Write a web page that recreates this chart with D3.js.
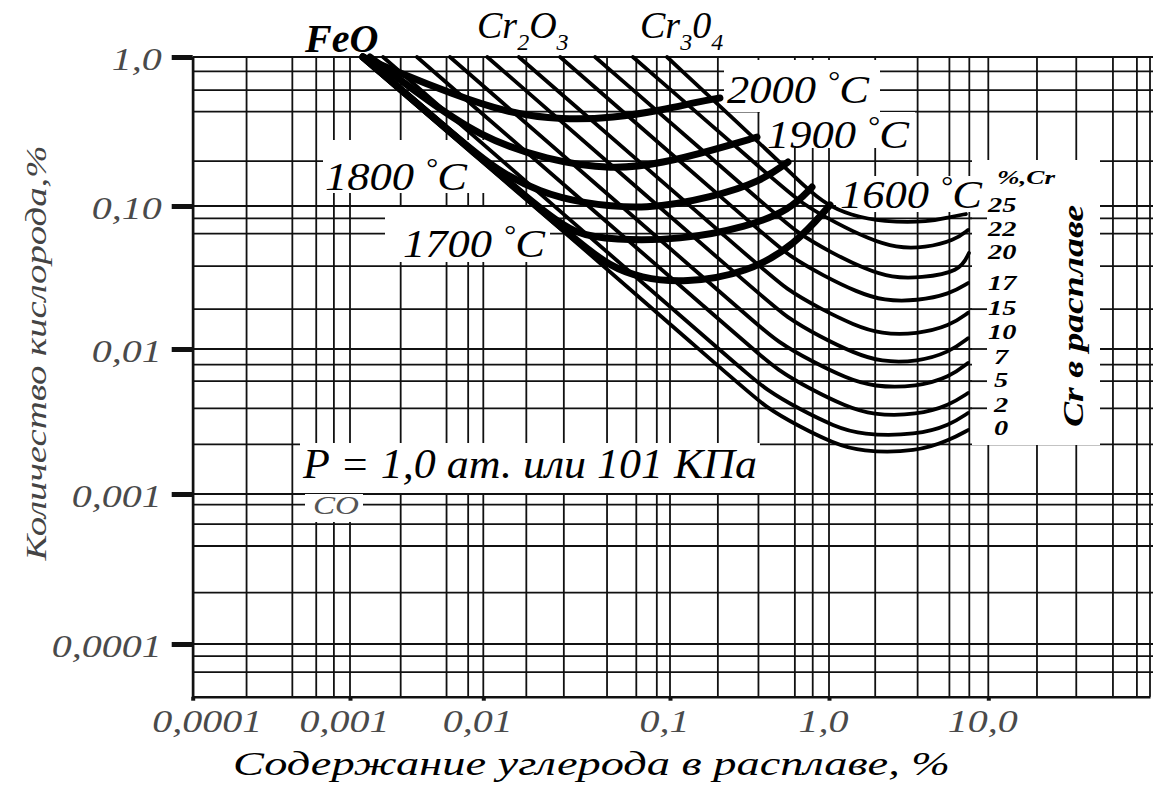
<!DOCTYPE html>
<html lang="ru">
<head>
<meta charset="utf-8">
<title>Содержание кислорода и углерода в хромистом расплаве</title>
<script src="https://cdn.jsdelivr.net/npm/d3@7/dist/d3.min.js"></script>
<style>
  html, body { margin: 0; padding: 0; background: #fff; }
  svg { display: block; }
</style>
</head>
<body>
<svg id="chart" width="1153" height="787"></svg>
<script>
// ---------- axes: decades and their labels ----------
const xDecades = [1e-4, 1e-3, 1e-2, 0.1, 1, 10, 100];
const xTickLabels = ["0,0001", "0,001", "0,01", "0,1", "1,0", "10,0"];
const yDecades = [1, 0.1, 0.01, 0.001, 1e-4];
const yBottom = 4.45e-5;
const yTickLabels = ["1,0", "0,10", "0,01", "0,001", "0,0001"];

// intermediate grid lines of the log paper
const xGridValues = [2.2e-4, 4.3e-4, 6.1e-4, 7.9e-4, 2.4e-3, 5.3e-3, 7.7e-3,
  0.017, 0.027, 0.046, 0.066, 0.085, 0.2, 0.36, 0.61, 0.79,
  1.95, 3.6, 5.7, 7.6, 20, 35, 59, 83];
const yGridValues = [0.8, 0.6, 0.43, 0.2, 0.082, 0.064, 0.038, 0.019,
  0.0078, 0.006, 0.0039, 0.0022, 8.5e-4, 6.3e-4, 4.5e-4, 2.2e-4, 8.3e-5, 6.5e-5];
// grid rows that run on into the Cr scale as pointers
const crPointerValues = [0.082, 0.019, 0.01, 0.006, 0.0039];

// ---------- oxygen vs carbon for melts with given Cr content, [C %, O %] ----------
const crContents = [0, 2, 5, 7, 10, 15, 17, 20, 22, 25];
const cr0  = [[0.00125,1.0],[0.276,0.00565],[0.396,0.00398],[0.657,0.0029],[1.06,0.00225],[1.57,0.00195],[3.57,0.00195],[5.75,0.00236],[7.46,0.00276]];
const cr2  = [[0.00177,1.0],[0.277,0.0074],[0.402,0.00522],[0.666,0.0038],[1.075,0.00294],[1.59,0.00255],[3.57,0.00255],[5.75,0.00299],[7.46,0.00362]];
const cr5  = [[0.00318,1.0],[0.326,0.0102],[0.471,0.00717],[0.782,0.00522],[1.26,0.00405],[1.86,0.0035],[3.57,0.0035],[5.75,0.00411],[7.46,0.00497]];
const cr7  = [[0.00562,1.0],[0.328,0.016],[0.473,0.0112],[0.793,0.00814],[1.28,0.00631],[1.89,0.00547],[3.57,0.00547],[5.75,0.00641],[7.46,0.00801]];
const cr10 = [[0.0105,1.0],[0.371,0.0238],[0.537,0.0167],[0.89,0.0121],[1.435,0.00938],[2.12,0.00814],[3.57,0.00814],[5.75,0.00953],[7.46,0.0119]];
const cr15 = [[0.0155,1.0],[0.371,0.0374],[0.534,0.0263],[0.89,0.019],[1.435,0.0147],[2.12,0.0127],[3.57,0.0127],[5.75,0.0145],[7.46,0.0179]];
const cr17 = [[0.0258,1.0],[0.387,0.0637],[0.558,0.0447],[0.93,0.0324],[1.5,0.025],[2.21,0.0217],[3.57,0.0217],[5.75,0.0242],[7.46,0.0289]];
const cr20 = [[0.0397,1.0],[0.438,0.0923],[0.632,0.0648],[1.044,0.0469],[1.68,0.0363],[2.49,0.0314],[3.73,0.0314],[6.64,0.0346],[7.56,0.0469]];
const cr22 = [[0.0633,1.0],[0.461,0.147],[0.665,0.1047],[1.106,0.076],[1.78,0.0588],[2.63,0.0509],[4.0,0.0509],[6.18,0.0578],[7.46,0.068]];
const cr25 = [[0.0964,1.0],[0.492,0.197],[0.707,0.134],[0.971,0.1016],[1.355,0.0865],[2.18,0.0773],[4.3,0.0773],[5.75,0.0838],[7.24,0.0879]];

// ---------- isotherms of oxide equilibrium, [C %, O %] ----------
const isoTemps = [2000, 1900, 1800, 1700, 1600];
const t2000 = [[0.00125,1.0],[0.00237,0.781],[0.00562,0.573],[0.0134,0.421],[0.0267,0.378],[0.0495,0.39],[0.0917,0.441],[0.148,0.499],[0.206,0.531]];
const t1900 = [[0.00141,1.0],[0.00335,0.556],[0.00944,0.29],[0.0219,0.2035],[0.0495,0.1744],[0.0917,0.1943],[0.186,0.2376],[0.3525,0.29]];
const t1800 = [[0.00125,1.0],[0.00794,0.2413],[0.0123,0.169],[0.0201,0.124],[0.033,0.1047],[0.0753,0.0938],[0.186,0.115],[0.368,0.145],[0.552,0.1973]];
const t1700 = [[0.00125,1.0],[0.00794,0.2413],[0.0214,0.0894],[0.031,0.0637],[0.0495,0.0578],[0.1156,0.0578],[0.305,0.0713],[0.568,0.0938],[0.782,0.134]];
const t1600 = [[0.00125,1.0],[0.00794,0.2413],[0.033,0.0542],[0.0477,0.038],[0.0691,0.0314],[0.1243,0.0289],[0.305,0.034],[0.611,0.0534],[1.015,0.1016]];

const crSeries = crContents.map((c, i) => ({ cr: c, pts: [cr0, cr2, cr5, cr7, cr10, cr15, cr17, cr20, cr22, cr25][i] }));
const isoSeries = isoTemps.map((t, i) => ({ t, pts: [t2000, t1900, t1800, t1700, t1600][i] }));

// ---------- drawing ----------
const W = 1153, H = 787;
const serif = "'Liberation Serif', 'Times New Roman', serif";
const svg = d3.select("#chart");

// hand-ruled log paper: each decade gets its own span on the sheet
const x = d3.scaleLog().domain(xDecades).range([192.7, 350, 483.3, 670, 829, 988.3, 1150]);
const y = d3.scaleLog().domain(yDecades.concat([yBottom])).range([57, 206, 349, 494, 644, 696.7]);

const plotLeft = x(xDecades[0]), plotTop = y(yDecades[0]), plotBottom = y(yBottom);

// grid
const grid = svg.append("g").attr("stroke", "#111").attr("stroke-width", 1.8);
grid.selectAll("line.v").data(xDecades.concat(xGridValues)).join("line").attr("class", "v")
  .attr("x1", d => x(d)).attr("x2", d => x(d)).attr("y1", plotTop).attr("y2", plotBottom);
grid.selectAll("line.h").data(yDecades.concat(yGridValues)).join("line").attr("class", "h")
  .attr("x1", plotLeft).attr("x2", W).attr("y1", d => y(d)).attr("y2", d => y(d));

// white fields cleared under the annotations
const clearings = [
  [323, 140, 490, 193],   // 1800 °C
  [385, 207, 550, 262],   // 1700 °C
  [724, 60, 880, 112],    // 2000 °C
  [760, 112, 915, 148],   // 1900 °C
  [836, 176, 986, 212],   // 1600 °C
  [300, 443, 760, 493],   // pressure note
  [305, 494, 363, 522],   // CO
  [972, 160, 1100, 445]   // Cr scale
];
svg.append("g").selectAll("rect").data(clearings).join("rect")
  .attr("x", d => d[0]).attr("y", d => d[1])
  .attr("width", d => d[2] - d[0]).attr("height", d => d[3] - d[1])
  .attr("fill", "#fff");

// short pointers from the grid into the Cr scale
svg.append("g").attr("stroke", "#111").attr("stroke-width", 1.8)
  .selectAll("line").data(crPointerValues).join("line")
  .attr("x1", x(7.6)).attr("x2", 987).attr("y1", d => y(d)).attr("y2", d => y(d));

// axes
const xAxis = d3.axisBottom(x)
  .tickValues(xDecades.slice(0, 6))
  .tickFormat((d, i) => xTickLabels[i])
  .tickSizeInner(4).tickSizeOuter(0).tickPadding(9);
const gx = svg.append("g").attr("transform", `translate(0,${plotBottom})`).call(xAxis);
gx.select(".domain").attr("stroke", "#111").attr("stroke-width", 2.5);
gx.selectAll(".tick line").attr("stroke", "#111").attr("stroke-width", 4);
gx.selectAll(".tick text")
  .attr("font-family", serif).attr("font-style", "italic").attr("font-size", 32)
  .attr("fill", "#4a4a4a")
  .attr("dx", (d, i) => i === 0 ? 14 : -6)
  .each(function () {
    const w = this.getComputedTextLength();
    d3.select(this).attr("textLength", w * 1.25).attr("lengthAdjust", "spacingAndGlyphs");
  });

const yAxis = d3.axisLeft(y)
  .tickValues(yDecades)
  .tickFormat((d, i) => yTickLabels[i])
  .tickSizeInner(21).tickSizeOuter(0).tickPadding(10);
const gy = svg.append("g").attr("transform", `translate(${plotLeft},0)`).call(yAxis);
gy.select(".domain").attr("stroke", "#111").attr("stroke-width", 2.5);
gy.selectAll(".tick line").attr("stroke", "#111").attr("stroke-width", 5);
gy.selectAll(".tick text")
  .attr("font-family", serif).attr("font-style", "italic").attr("font-size", 32)
  .attr("fill", "#4a4a4a").attr("dy", "0.4em")
  .each(function () {
    const w = this.getComputedTextLength();
    d3.select(this).attr("textLength", w * 1.25).attr("lengthAdjust", "spacingAndGlyphs");
  });

// curves
const line = d3.line().x(d => x(d[0])).y(d => y(d[1])).curve(d3.curveBasis);
svg.append("g").selectAll("path").data(crSeries).join("path")
  .attr("d", d => line(d.pts))
  .attr("fill", "none").attr("stroke", "#000").attr("stroke-width", 3.8)
  .attr("stroke-linejoin", "round").attr("stroke-linecap", "round");
svg.append("g").selectAll("path").data(isoSeries).join("path")
  .attr("d", d => line(d.pts))
  .attr("fill", "none").attr("stroke", "#000").attr("stroke-width", 7)
  .attr("stroke-linejoin", "round").attr("stroke-linecap", "round");

// ---------- annotations ----------
const ann = svg.append("g").attr("font-family", serif).attr("font-style", "italic").attr("fill", "#000");

function tempLabel(t, x0, yb) {
  const tx = ann.append("text").attr("x", x0).attr("y", yb).attr("font-size", 40)
    .attr("textLength", 142).attr("lengthAdjust", "spacingAndGlyphs");
  tx.append("tspan").text(t + " ");
  tx.append("tspan").attr("font-size", 27).attr("dy", -13).text("°");
  tx.append("tspan").attr("dy", 13).text("C");
}
tempLabel(isoTemps[0], 727, 103);
tempLabel(isoTemps[1], 767, 148);
tempLabel(isoTemps[2], 325, 190);
tempLabel(isoTemps[3], 403, 257);
tempLabel(isoTemps[4], 840, 208);

ann.append("text").attr("x", 305).attr("y", 52).attr("font-size", 40).attr("font-weight", "bold").text("FeO");

function oxide(x0, yb, a, b) {
  const tx = ann.append("text").attr("x", x0).attr("y", yb).attr("font-size", 38);
  tx.append("tspan").text("Cr");
  tx.append("tspan").attr("font-size", 24).attr("dy", 12).text(a);
  tx.append("tspan").attr("dy", -12).text(b[0]);
  tx.append("tspan").attr("font-size", 24).attr("dy", 12).text(b[1]);
}
oxide(477, 38, "2", "O3");
oxide(640, 38, "3", "04");

ann.append("text").attr("x", 303).attr("y", 478).attr("font-size", 42)
  .attr("textLength", 454).attr("lengthAdjust", "spacingAndGlyphs")
  .text("P = 1,0 ат. или 101 КПа");
ann.append("text").attr("x", 313).attr("y", 514).attr("font-size", 26).attr("fill", "#555")
  .attr("textLength", 46).attr("lengthAdjust", "spacingAndGlyphs").text("CO");

// Cr scale at the right-hand ends of the lines
const crLabelY = [212, 236, 259, 290, 315, 339, 364, 387, 412, 435];
ann.append("text").attr("x", 997).attr("y", 184).attr("font-size", 19).attr("font-weight", "bold")
  .attr("textLength", 58).attr("lengthAdjust", "spacingAndGlyphs").text("%,Cr");
ann.append("g").selectAll("text").data(crContents.slice().reverse()).join("text")
  .attr("x", d => d < 10 ? 994 : 988).attr("y", (d, i) => crLabelY[i])
  .attr("font-size", 21).attr("font-weight", "bold").text(d => d)
  .each(function () {
    const w = this.getComputedTextLength();
    d3.select(this).attr("textLength", w * 1.35).attr("lengthAdjust", "spacingAndGlyphs");
  });
ann.append("text").attr("transform", "translate(1083,316) rotate(-90)")
  .attr("text-anchor", "middle").attr("font-size", 29).attr("font-weight", "bold")
  .attr("textLength", 222).attr("lengthAdjust", "spacingAndGlyphs").text("Cr в расплаве");

// axis titles
ann.append("text").attr("transform", "translate(46,353) rotate(-90)")
  .attr("text-anchor", "middle").attr("font-size", 30).attr("fill", "#444")
  .attr("textLength", 415).attr("lengthAdjust", "spacingAndGlyphs").text("Количество кислорода,%");
ann.append("text").attr("x", 233).attr("y", 775).attr("font-size", 34)
  .attr("textLength", 717).attr("lengthAdjust", "spacingAndGlyphs").text("Содержание углерода в расплаве, %");
</script>
</body>
</html>
